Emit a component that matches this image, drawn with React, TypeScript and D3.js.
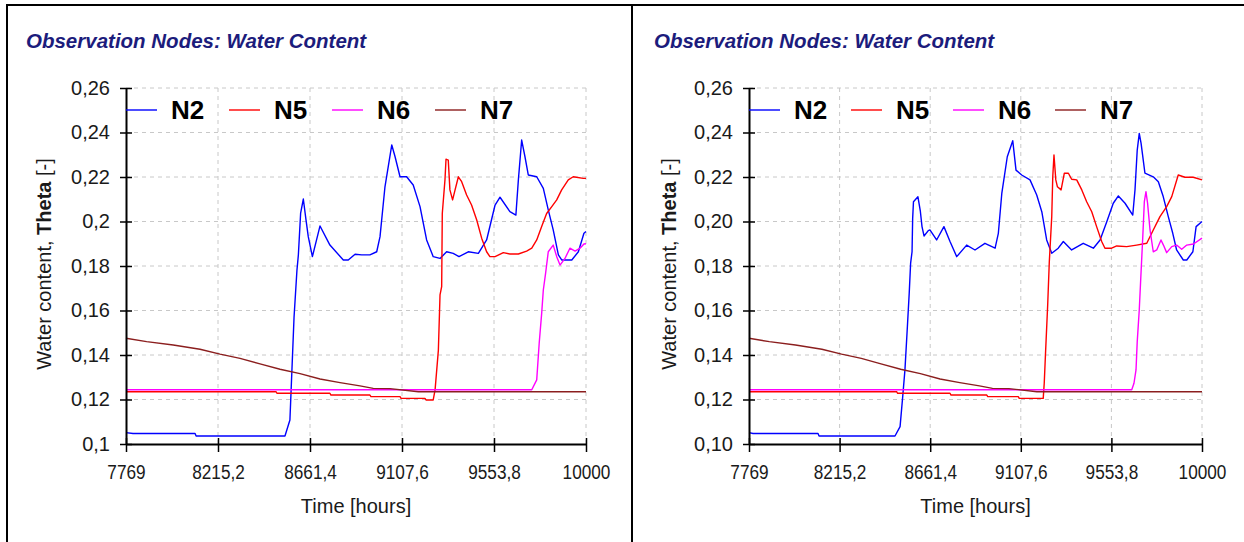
import React, { useEffect, useRef } from "react";
import * as d3 from "d3";

type Pt = [number, number];

const seriesNames = ["N2", "N5", "N6", "N7"];
const seriesColors = ["#0000ff", "#ff0000", "#ff00ff", "#8b1e1e"];

const xTickValues = [7769, 8215.2, 8661.4, 9107.6, 9553.8, 10000];
const xTickLabels = ["7769", "8215,2", "8661,4", "9107,6", "9553,8", "10000"];
const yTickValues = [0.1, 0.12, 0.14, 0.16, 0.18, 0.2, 0.22, 0.24, 0.26];
const yTickLabelsLeft = ["0,1", "0,12", "0,14", "0,16", "0,18", "0,2", "0,22", "0,24", "0,26"];
const yTickLabelsRight = ["0,10", "0,12", "0,14", "0,16", "0,18", "0,20", "0,22", "0,24", "0,26"];

// left chart: [time, theta]
const n2Left: Pt[] = [
  [7769, 0.1051], [7803, 0.1047], [8104, 0.1047], [8109, 0.1036], [8540, 0.1036],
  [8564, 0.1108], [8584, 0.157], [8598, 0.178], [8605, 0.185], [8616, 0.2038],
  [8629, 0.2101], [8642, 0.2007], [8653, 0.1932], [8673, 0.1842], [8710, 0.198],
  [8758, 0.1894], [8823, 0.1827], [8847, 0.1827], [8880, 0.1853], [8912, 0.185],
  [8952, 0.185], [8985, 0.1864], [9001, 0.1932], [9025, 0.2156], [9058, 0.2344],
  [9074, 0.2291], [9098, 0.2201], [9130, 0.2201], [9162, 0.2164], [9195, 0.2067],
  [9227, 0.1917], [9259, 0.1842], [9292, 0.1834], [9324, 0.1864], [9356, 0.1857],
  [9384, 0.1842], [9429, 0.1864], [9478, 0.1857], [9518, 0.1917], [9559, 0.2074],
  [9583, 0.2109], [9631, 0.2044], [9660, 0.2029], [9672, 0.2187], [9688, 0.2366],
  [9704, 0.2291], [9720, 0.2209], [9761, 0.2201], [9793, 0.2149], [9817, 0.2052],
  [9841, 0.1962], [9866, 0.185], [9882, 0.1827], [9931, 0.1827], [9963, 0.1864],
  [9990, 0.1947], [10000, 0.1955],
];

const n5Left: Pt[] = [
  [7769, 0.1235], [8497, 0.1235], [8501, 0.1228], [8758, 0.1228], [8763, 0.122],
  [8952, 0.122], [8957, 0.1213], [9098, 0.1213], [9103, 0.1205], [9219, 0.1205],
  [9224, 0.1198], [9259, 0.1198], [9268, 0.1243], [9284, 0.1422], [9292, 0.167],
  [9300, 0.1707], [9303, 0.2036], [9316, 0.2187], [9321, 0.228], [9332, 0.2276],
  [9340, 0.2142], [9353, 0.2097], [9365, 0.2142], [9381, 0.2201], [9397, 0.2179],
  [9421, 0.2119], [9445, 0.2074], [9470, 0.2007], [9494, 0.1925], [9518, 0.1864],
  [9534, 0.1842], [9559, 0.1842], [9599, 0.186], [9631, 0.1854], [9672, 0.1854],
  [9712, 0.1867], [9737, 0.188], [9761, 0.1917], [9785, 0.1977], [9809, 0.2036],
  [9834, 0.2067], [9858, 0.2097], [9882, 0.2142], [9914, 0.2187], [9938, 0.2201],
  [9987, 0.2194], [10000, 0.2194],
];

const n6Left: Pt[] = [
  [7769, 0.1244], [9737, 0.1244], [9761, 0.1288], [9773, 0.1453], [9785, 0.1587],
  [9793, 0.1692], [9804, 0.1767], [9817, 0.1864], [9841, 0.1894], [9858, 0.1842],
  [9874, 0.1804], [9898, 0.1834], [9922, 0.188], [9947, 0.1867], [9971, 0.188],
  [9990, 0.1899], [10000, 0.19],
];

// N7 is the same in both runs
const n7: Pt[] = [
  [7769, 0.1475], [7869, 0.146], [7998, 0.1445], [8128, 0.1426], [8225, 0.1404],
  [8322, 0.1385], [8419, 0.136], [8516, 0.1336], [8613, 0.1316], [8710, 0.1292],
  [8807, 0.1276], [8904, 0.1261], [8968, 0.125], [9049, 0.1249], [9187, 0.1235],
  [10000, 0.1235],
];

// right chart
const n2Right: Pt[] = [
  [7769, 0.1051], [7789, 0.1047], [8109, 0.1047], [8114, 0.1036], [8488, 0.1036],
  [8513, 0.1078], [8526, 0.1213], [8537, 0.1333], [8549, 0.1527], [8558, 0.1677],
  [8565, 0.1813], [8572, 0.1864], [8575, 0.2014], [8579, 0.2089], [8601, 0.2111],
  [8613, 0.2045], [8621, 0.1977], [8631, 0.1935], [8652, 0.1959], [8660, 0.1962],
  [8693, 0.1917], [8729, 0.1977], [8759, 0.191], [8792, 0.1842], [8841, 0.1894],
  [8882, 0.1872], [8931, 0.1902], [8981, 0.188], [8997, 0.1947], [9014, 0.2126],
  [9041, 0.2291], [9068, 0.2363], [9084, 0.2231], [9112, 0.2209], [9153, 0.2187],
  [9186, 0.2119], [9211, 0.2044], [9235, 0.1917], [9260, 0.1857], [9292, 0.188],
  [9317, 0.191], [9358, 0.1872], [9415, 0.1902], [9465, 0.188], [9498, 0.1917],
  [9531, 0.1999], [9563, 0.2082], [9588, 0.2115], [9621, 0.2082], [9659, 0.2029],
  [9670, 0.2142], [9681, 0.2321], [9691, 0.2396], [9700, 0.2351], [9719, 0.2217],
  [9760, 0.2201], [9785, 0.2179], [9809, 0.2112], [9834, 0.2022], [9856, 0.1947],
  [9875, 0.1872], [9908, 0.1827], [9925, 0.1827], [9955, 0.1864], [9971, 0.1977],
  [10000, 0.2],
];

const n5Right: Pt[] = [
  [7769, 0.1235], [8496, 0.1235], [8501, 0.1228], [8759, 0.1228], [8764, 0.122],
  [8940, 0.122], [8945, 0.1213], [9095, 0.1213], [9100, 0.1205], [9218, 0.1205],
  [9223, 0.1273], [9230, 0.1422], [9240, 0.1625], [9248, 0.1819], [9260, 0.2022],
  [9265, 0.2201], [9271, 0.2299], [9280, 0.2187], [9288, 0.2156], [9306, 0.2142],
  [9322, 0.2217], [9342, 0.2217], [9358, 0.219], [9383, 0.2187], [9408, 0.2142],
  [9432, 0.2089], [9457, 0.2044], [9481, 0.1977], [9506, 0.191], [9522, 0.188],
  [9555, 0.188], [9580, 0.189], [9629, 0.1887], [9678, 0.1894], [9728, 0.1902],
  [9760, 0.1962], [9793, 0.2022], [9826, 0.2067], [9851, 0.2112], [9883, 0.2209],
  [9916, 0.2199], [9957, 0.2199], [10000, 0.2187],
];

const n6Right: Pt[] = [
  [7769, 0.1244], [9654, 0.1244], [9665, 0.1273], [9675, 0.1333], [9681, 0.146],
  [9691, 0.1602], [9698, 0.1737], [9708, 0.1925], [9716, 0.2089], [9724, 0.2134],
  [9732, 0.2082], [9744, 0.1962], [9760, 0.1864], [9777, 0.1872], [9798, 0.1917],
  [9810, 0.1894], [9826, 0.186], [9851, 0.1887], [9875, 0.1894], [9900, 0.1875],
  [9925, 0.1894], [9958, 0.1899], [10000, 0.1925],
];

const FONT = "'Liberation Sans', Arial, sans-serif";

const App = () => {
  const svgRef = useRef<SVGSVGElement>(null);

  useEffect(() => {
    const width = 1244;
    const height = 542;

    const panels = [
      { left: 126, right: 586, titleX: 26, yTitleX: 44, step: 103, yLabels: yTickLabelsLeft, data: [n2Left, n5Left, n6Left, n7] },
      { left: 749, right: 1202, titleX: 654, yTitleX: 669, step: 102, yLabels: yTickLabelsRight, data: [n2Right, n5Right, n6Right, n7] },
    ];
    const top = 88;
    const bottom = 444;

    const svg = d3.select(svgRef.current).attr("width", width).attr("height", height);
    svg.selectAll("*").remove();
    svg.append("rect").attr("width", width).attr("height", height).attr("fill", "#fff");

    // frame
    svg.append("path")
      .attr("d", `M7,${height} V5 H${width} M632,5 V${height}`)
      .attr("fill", "none")
      .attr("stroke", "#000")
      .attr("stroke-width", 2);

    panels.forEach((p) => {
      const g = svg.append("g").attr("font-family", FONT);

      const x = d3.scaleLinear().domain([7769, 10000]).range([p.left, p.right]);
      const y = d3.scaleLinear().domain([0.1, 0.26]).range([bottom, top]);

      // title
      g.append("text")
        .attr("x", p.titleX)
        .attr("y", 48)
        .attr("font-size", 20.5)
        .attr("font-weight", "bold")
        .attr("font-style", "italic")
        .attr("fill", "#1c1c7c")
        .text("Observation Nodes: Water Content");

      // grid
      const grid = g.append("g")
        .attr("stroke", "#c8c8c8")
        .attr("stroke-dasharray", "4,4")
        .attr("stroke-width", 1);
      grid.selectAll("line.v")
        .data(xTickValues.slice(1))
        .join("line")
        .attr("x1", (d) => x(d)).attr("x2", (d) => x(d))
        .attr("y1", top).attr("y2", bottom);
      grid.selectAll("line.h")
        .data(yTickValues.slice(1))
        .join("line")
        .attr("class", "h")
        .attr("x1", p.left).attr("x2", p.right)
        .attr("y1", (d) => y(d)).attr("y2", (d) => y(d));

      // series
      const line = d3.line<Pt>().x((d) => x(d[0])).y((d) => y(d[1]));
      p.data.forEach((s, i) => {
        g.append("path")
          .datum(s)
          .attr("fill", "none")
          .attr("stroke", seriesColors[i])
          .attr("stroke-width", 1.4)
          .attr("stroke-linejoin", "round")
          .attr("d", line);
      });

      // axes
      const yAxis = g.append("g")
        .attr("transform", `translate(${p.left},0)`)
        .call(
          d3.axisLeft(y)
            .tickValues(yTickValues)
            .tickFormat((d, i) => p.yLabels[i])
            .tickSize(6)
            .tickSizeOuter(0)
            .tickPadding(10)
        );
      yAxis.selectAll(".tick line").attr("x1", 6).attr("stroke-width", 1.5);

      const xAxis = g.append("g")
        .attr("transform", `translate(0,${bottom})`)
        .call(
          d3.axisBottom(x)
            .tickValues(xTickValues)
            .tickFormat((d, i) => xTickLabels[i])
            .tickSize(8)
            .tickSizeOuter(0)
            .tickPadding(13)
        );
      xAxis.selectAll(".tick line").attr("y1", -6).attr("stroke-width", 1.5);

      [yAxis, xAxis].forEach((a) => {
        a.attr("font-family", FONT).attr("font-size", 20);
        a.select(".domain").attr("stroke-width", 2);
        a.selectAll(".tick text").attr("fill", "#1a1a1a");
      });
      // the time labels are drawn a little condensed
      xAxis.selectAll<SVGTextElement, number>(".tick text").each(function () {
        const w = this.getComputedTextLength();
        d3.select(this).attr("textLength", w * 0.86).attr("lengthAdjust", "spacingAndGlyphs");
      });

      // axis titles
      g.append("text")
        .attr("x", (p.left + p.right) / 2)
        .attr("y", 513)
        .attr("text-anchor", "middle")
        .attr("font-size", 20)
        .attr("fill", "#1a1a1a")
        .text("Time [hours]");

      const yt = g.append("text")
        .attr("transform", `translate(${p.yTitleX + 7},264) rotate(-90)`)
        .attr("text-anchor", "middle")
        .attr("font-size", 20)
        .attr("fill", "#1a1a1a");
      yt.append("tspan").text("Water content, ");
      yt.append("tspan").attr("font-weight", "bold").text("Theta");
      yt.append("tspan").text(" [-]");

      // legend
      const lg = g.append("g");
      seriesNames.forEach((name, i) => {
        const lx = p.left + i * p.step;
        lg.append("line")
          .attr("x1", lx).attr("x2", lx + 31)
          .attr("y1", 110).attr("y2", 110)
          .attr("stroke", seriesColors[i])
          .attr("stroke-width", 1.4);
        lg.append("text")
          .attr("x", lx + 45)
          .attr("y", 119)
          .attr("font-size", 26)
          .attr("font-weight", "bold")
          .attr("fill", "#000")
          .text(name);
      });
    });
  }, []);

  return (
    <svg
      ref={svgRef}
      style={{ position: "absolute", left: 0, top: 0, display: "block" }}
    ></svg>
  );
};

export default App;
